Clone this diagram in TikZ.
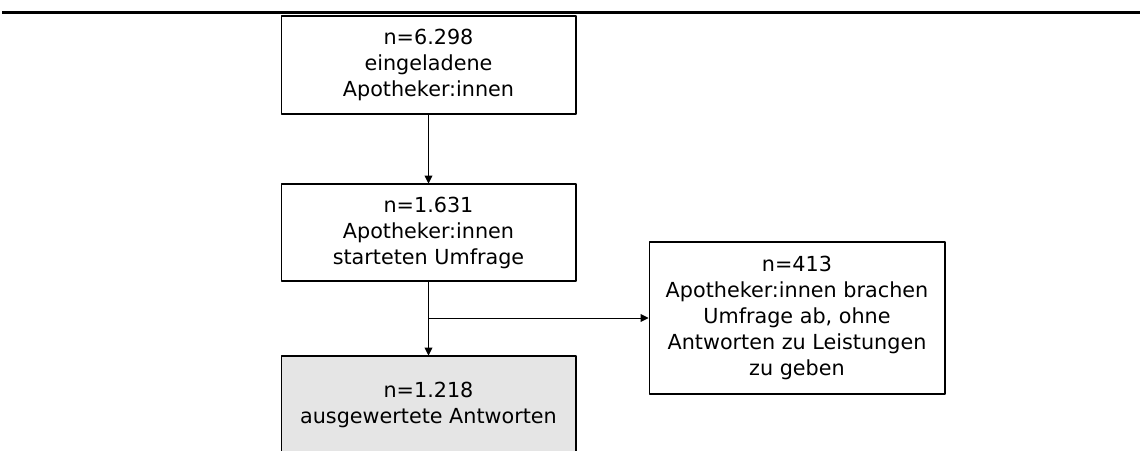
\documentclass[tikz,border=0pt]{standalone}
\usepackage{fontspec}
\setmainfont{DejaVu Sans}
\usetikzlibrary{arrows.meta}

\begin{document}
\begin{tikzpicture}[line cap=round,line join=round,>={Triangle[length=4.5pt,width=4.5pt]},x=0.02cm,y=-0.02cm,
    box/.style={draw=black,line width=0.6pt,align=center,minimum width=5.9cm,inner sep=0pt,
        font=\fontsize{11.8}{14.8}\selectfont},
    greybox/.style={box,fill=black!10}]
    \useasboundingbox (0,0) rectangle (1140,450);
    \clip (0,0) rectangle (1140,450);
    \draw[line width=1.7pt,line cap=butt] (2,12.5) -- (1140,12.5);
    % flow boxes
    \node[box,minimum height=1.96cm] (invited) at (428.5,65) {n=6.298\\eingeladene\\Apotheker:innen};
    \node[box,minimum height=1.94cm] (started) at (428.5,232.5) {n=1.631\\Apotheker:innen\\starteten Umfrage};
    \node[greybox,minimum height=1.94cm] (evaluated) at (428.5,404.5) {n=1.218\\ausgewertete Antworten};
    \node[box,minimum width=5.92cm,minimum height=3.04cm] (aborted) at (797,318)
        {n=413\\Apotheker:innen brachen\\Umfrage ab, ohne\\Antworten zu Leistungen\\zu geben};
    \coordinate (split) at (started.south |- aborted.west);
    % connectors
    \draw[->,line width=0.5pt] (invited) -- (started);
    \draw[->,line width=0.5pt] (started) -- (evaluated);
    \draw[->,line width=0.5pt] (split) -- (aborted);
\end{tikzpicture}
\end{document}
